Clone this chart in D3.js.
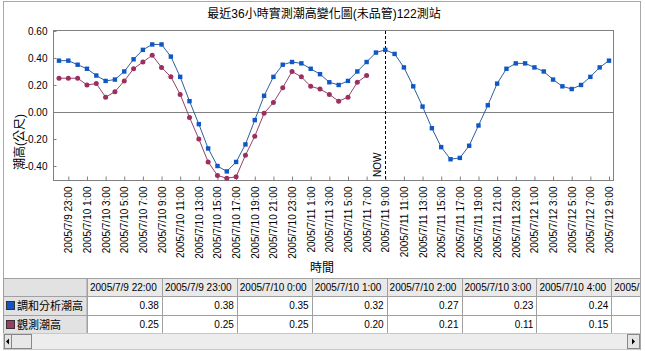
<!DOCTYPE html>
<html lang="zh-Hant">
<head>
<meta charset="UTF-8">
<title>最近36小時實測潮高變化圖(未品管)122測站</title>
<script src="https://cdnjs.cloudflare.com/ajax/libs/d3/7.8.5/d3.min.js"></script>
<style>
    body { margin: 0; background: #fff; }
    svg { display: block; font-family: "Liberation Sans", Arial, "Noto Sans CJK TC", sans-serif; }
</style>
</head>
<body>
<script>
// hourly time categories
const times = [
    "2005/7/9 22:00", "2005/7/9 23:00",
    "2005/7/10 0:00", "2005/7/10 1:00", "2005/7/10 2:00", "2005/7/10 3:00", "2005/7/10 4:00", "2005/7/10 5:00",
    "2005/7/10 6:00", "2005/7/10 7:00", "2005/7/10 8:00", "2005/7/10 9:00", "2005/7/10 10:00", "2005/7/10 11:00",
    "2005/7/10 12:00", "2005/7/10 13:00", "2005/7/10 14:00", "2005/7/10 15:00", "2005/7/10 16:00", "2005/7/10 17:00",
    "2005/7/10 18:00", "2005/7/10 19:00", "2005/7/10 20:00", "2005/7/10 21:00", "2005/7/10 22:00", "2005/7/10 23:00",
    "2005/7/11 0:00", "2005/7/11 1:00", "2005/7/11 2:00", "2005/7/11 3:00", "2005/7/11 4:00", "2005/7/11 5:00",
    "2005/7/11 6:00", "2005/7/11 7:00", "2005/7/11 8:00", "2005/7/11 9:00", "2005/7/11 10:00", "2005/7/11 11:00",
    "2005/7/11 12:00", "2005/7/11 13:00", "2005/7/11 14:00", "2005/7/11 15:00", "2005/7/11 16:00", "2005/7/11 17:00",
    "2005/7/11 18:00", "2005/7/11 19:00", "2005/7/11 20:00", "2005/7/11 21:00", "2005/7/11 22:00", "2005/7/11 23:00",
    "2005/7/12 0:00", "2005/7/12 1:00", "2005/7/12 2:00", "2005/7/12 3:00", "2005/7/12 4:00", "2005/7/12 5:00",
    "2005/7/12 6:00", "2005/7/12 7:00", "2005/7/12 8:00", "2005/7/12 9:00"
];

// 調和分析潮高 (predicted)
const harmonic = [
    0.38, 0.38, 0.35, 0.32, 0.27, 0.23, 0.24, 0.30, 0.39, 0.46,
    0.50, 0.50, 0.41, 0.26, 0.08, -0.09, -0.27, -0.40, -0.44, -0.37,
    -0.24, -0.06, 0.12, 0.26, 0.35, 0.37, 0.36, 0.32, 0.28, 0.22,
    0.20, 0.23, 0.30, 0.37, 0.44, 0.46, 0.43, 0.33, 0.19, 0.04,
    -0.12, -0.26, -0.35, -0.34, -0.25, -0.10, 0.05, 0.21, 0.32, 0.36,
    0.36, 0.33, 0.30, 0.24, 0.19, 0.17, 0.20, 0.26, 0.33, 0.38
];

// 觀測潮高 (observed, stops before NOW)
const observed = [
    0.25, 0.25, 0.25, 0.20, 0.21, 0.11, 0.15, 0.23, 0.32, 0.37,
    0.42, 0.33, 0.26, 0.13, -0.04, -0.20, -0.37, -0.47, -0.49, -0.48,
    -0.32, -0.18, -0.01, 0.07, 0.18, 0.30, 0.26, 0.19, 0.17, 0.13,
    0.08, 0.11, 0.22, 0.27
];

const yTicks = [-0.4, -0.2, 0, 0.2, 0.4, 0.6];
const xTicks = times.filter((d, i) => i % 2 === 1);
const seriesNames = ["調和分析潮高", "觀測潮高"];
const nowTime = "2005/7/11 9:00";
const tableTimes = times.slice(0, 8);

const blueMark = "#0f57c4", blueLine = "#2f5f9e";
const redMark = "#9c2f60", redLine = "#93426c";

var svg = d3.select("body").append("svg")
    .attr("width", 645)
    .attr("height", 351);

// outer frame
svg.append("rect")
    .attr("x", 3.5).attr("y", 1.5)
    .attr("width", 637).attr("height", 348)
    .attr("fill", "#fff")
    .attr("stroke", "#a8a8a8");

var x = d3.scalePoint().domain(times).range([59, 609]);
var y = d3.scaleLinear().domain([-0.511, 0.607]).range([181, 30]);

// title
svg.append("text")
    .attr("x", 324).attr("y", 18)
    .attr("text-anchor", "middle")
    .style("font-size", "12px")
    .text("最近36小時實測潮高變化圖(未品管)122測站");

// plot frame
svg.append("rect")
    .attr("x", 53.5).attr("y", 30.5)
    .attr("width", 560).attr("height", 150)
    .attr("fill", "#fff")
    .attr("stroke", "#808080");

// zero line
svg.append("line")
    .attr("x1", 53.5).attr("x2", 613.5)
    .attr("y1", Math.round(y(0)) + 0.5).attr("y2", Math.round(y(0)) + 0.5)
    .attr("stroke", "#808080");

// y axis
var yAxis = svg.append("g")
    .attr("transform", "translate(53.5,0)")
    .call(d3.axisLeft(y).tickValues(yTicks)
        .tickFormat(d => d.toFixed(2))
        .tickSizeInner(-3).tickSizeOuter(0).tickPadding(6));
yAxis.select(".domain").remove();
yAxis.selectAll("line").attr("stroke", "#808080");
yAxis.selectAll("text").style("font-size", "10px").attr("fill", "#000");

// x axis
var xAxis = svg.append("g")
    .attr("transform", "translate(0,180.5)")
    .call(d3.axisBottom(x).tickValues(xTicks)
        .tickSizeInner(-4).tickSizeOuter(0).tickPadding(6));
xAxis.select(".domain").remove();
xAxis.selectAll("line").attr("stroke", "#808080");
xAxis.selectAll("text")
    .style("font-size", "10px")
    .attr("fill", "#000")
    .attr("transform", "rotate(-90)")
    .attr("x", -6).attr("y", 0).attr("dy", "0.35em")
    .attr("text-anchor", "end");

// axis titles
svg.append("text")
    .attr("transform", "translate(24,142) rotate(-90)")
    .attr("text-anchor", "middle")
    .style("font-size", "12px")
    .text("潮高(公尺)");

svg.append("text")
    .attr("x", 322).attr("y", 272)
    .attr("text-anchor", "middle")
    .style("font-size", "12px")
    .text("時間");

// NOW marker
svg.append("line")
    .attr("x1", Math.round(x(nowTime)) + 0.5).attr("x2", Math.round(x(nowTime)) + 0.5)
    .attr("y1", 31).attr("y2", 180)
    .attr("stroke", "#000")
    .attr("stroke-dasharray", "3,2");

svg.append("text")
    .attr("transform", "translate(" + (x(nowTime) - 4) + ",177) rotate(-90)")
    .style("font-size", "10px")
    .text("NOW");

var line = d3.line()
    .x((d, i) => x(times[i]))
    .y(d => y(d));

// harmonic series
svg.append("path")
    .datum(harmonic)
    .attr("d", line)
    .attr("fill", "none")
    .attr("stroke", blueLine)
    .attr("stroke-width", 1);

svg.selectAll(".pt-blue")
    .data(harmonic)
    .enter()
    .append("rect")
    .attr("class", "pt-blue")
    .attr("x", (d, i) => x(times[i]) - 2.2)
    .attr("y", d => y(d) - 2.2)
    .attr("width", 4.4).attr("height", 4.4)
    .attr("fill", blueMark);

// observed series
svg.append("path")
    .datum(observed)
    .attr("d", line)
    .attr("fill", "none")
    .attr("stroke", redLine)
    .attr("stroke-width", 1);

svg.selectAll(".pt-red")
    .data(observed)
    .enter()
    .append("circle")
    .attr("class", "pt-red")
    .attr("cx", (d, i) => x(times[i]))
    .attr("cy", d => y(d))
    .attr("r", 2.5)
    .attr("fill", redMark);

// data table under the chart
var tbl = svg.append("g");
var colX = d3.scaleLinear().domain([0, 1]).range([87, 161.9]);
var rowTop = [278, 296, 315, 333];
var cellStroke = "#a0a0a0";

svg.append("clipPath").attr("id", "tclip")
    .append("rect").attr("x", 3).attr("y", 270).attr("width", 637).attr("height", 80);
tbl.attr("clip-path", "url(#tclip)");

// corner cell and header row
tbl.append("rect")
    .attr("x", 3.5).attr("y", rowTop[0] + 0.5)
    .attr("width", colX(0) - 3.5).attr("height", rowTop[1] - rowTop[0])
    .attr("fill", "#e2e2e2").attr("stroke", cellStroke);

tbl.selectAll(".hdr")
    .data(tableTimes)
    .enter()
    .append("rect")
    .attr("class", "hdr")
    .attr("x", (d, i) => Math.round(colX(i)) + 0.5)
    .attr("y", rowTop[0] + 0.5)
    .attr("width", (d, i) => Math.round(colX(i + 1)) - Math.round(colX(i)))
    .attr("height", rowTop[1] - rowTop[0])
    .attr("fill", "#e9e9e9").attr("stroke", cellStroke);

tbl.selectAll(".hdrtxt")
    .data(tableTimes)
    .enter()
    .append("text")
    .attr("class", "hdrtxt")
    .attr("x", (d, i) => colX(i) + 3)
    .attr("y", rowTop[0] + 13)
    .style("font-size", "10px")
    .text(d => d);

[harmonic, observed].forEach(function (series, r) {
    var top = rowTop[r + 1], h = rowTop[r + 2] - rowTop[r + 1];
    // row header with legend swatch
    tbl.append("rect")
        .attr("x", 3.5).attr("y", top + 0.5)
        .attr("width", colX(0) - 3.5).attr("height", h)
        .attr("fill", "#e2e2e2").attr("stroke", cellStroke);
    tbl.append("rect")
        .attr("x", 6.5).attr("y", top + 5.5)
        .attr("width", 8).attr("height", 8)
        .attr("fill", r === 0 ? blueMark : "#a03a68")
        .attr("stroke", "#333");
    tbl.append("text")
        .attr("x", 17).attr("y", top + 14)
        .style("font-size", "11px")
        .text(seriesNames[r]);

    tbl.selectAll(".cell" + r)
        .data(tableTimes)
        .enter()
        .append("rect")
        .attr("x", (d, i) => Math.round(colX(i)) + 0.5)
        .attr("y", top + 0.5)
        .attr("width", (d, i) => Math.round(colX(i + 1)) - Math.round(colX(i)))
        .attr("height", h)
        .attr("fill", "#fff").attr("stroke", cellStroke);

    tbl.selectAll(".val" + r)
        .data(tableTimes.slice(0, 7))
        .enter()
        .append("text")
        .attr("x", (d, i) => colX(i + 1) - 3)
        .attr("y", top + 13)
        .attr("text-anchor", "end")
        .style("font-size", "10px")
        .text((d, i) => series[i].toFixed(2));
});

// horizontal scrollbar
tbl.append("rect")
    .attr("x", 3.5).attr("y", 333.5)
    .attr("width", 637).attr("height", 16)
    .attr("fill", "#ededed").attr("stroke", "#c8c8c8");
tbl.append("rect")
    .attr("x", 4.5).attr("y", 334.5).attr("width", 7).attr("height", 14)
    .attr("fill", "#e4e4e4").attr("stroke", "#888");
tbl.append("rect")
    .attr("x", 11.5).attr("y", 334.5).attr("width", 20).attr("height", 14)
    .attr("fill", "#e8e8e8").attr("stroke", "#888");
tbl.append("rect")
    .attr("x", 627.5).attr("y", 334.5).attr("width", 12).attr("height", 14)
    .attr("fill", "#e4e4e4").attr("stroke", "#888");
tbl.append("path")
    .attr("d", "M6,341.5 L9,338.5 L9,344.5 Z")
    .attr("fill", "#000");
tbl.append("path")
    .attr("d", "M635,341.5 L632,338.5 L632,344.5 Z")
    .attr("fill", "#000");
</script>
</body>
</html>
